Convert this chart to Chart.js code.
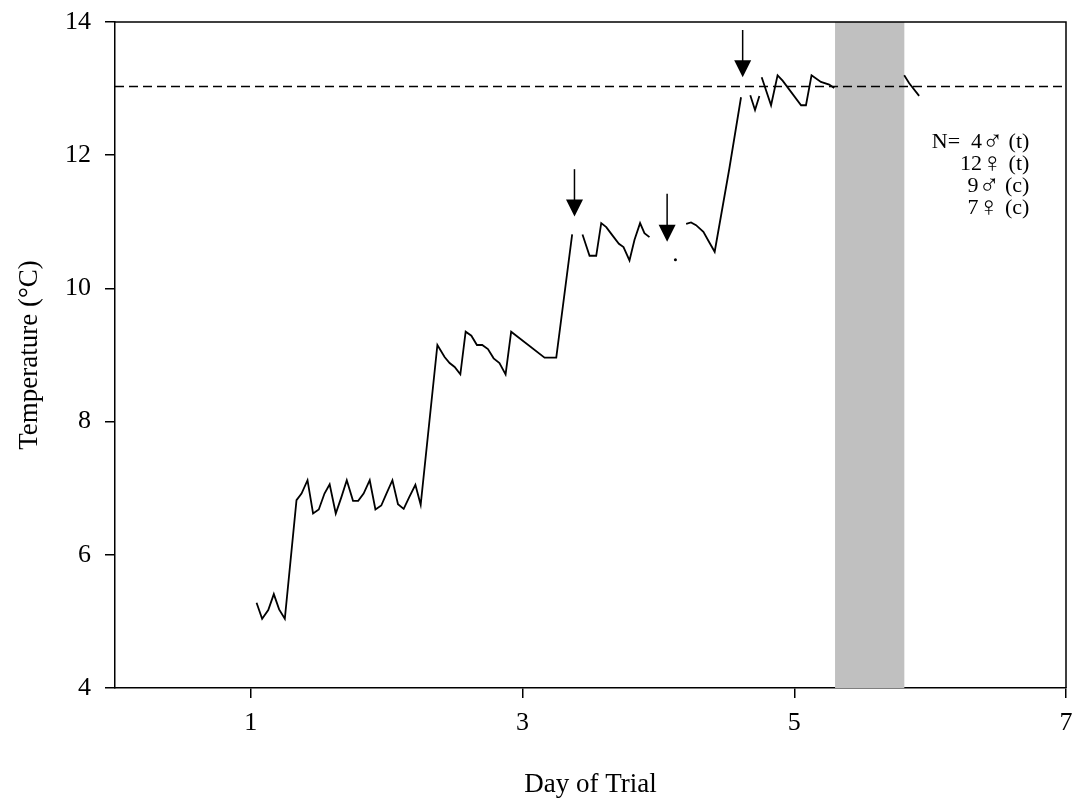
<!DOCTYPE html>
<html>
<head>
<meta charset="utf-8">
<script src="https://cdn.jsdelivr.net/npm/chart.js@4.4.1/dist/chart.umd.min.js"></script>
<style>
  html, body { margin: 0; padding: 0; background: #fff; }
</style>
</head>
<body>
<canvas id="chart" width="1072" height="800"></canvas>
<script>
// ── Data (null = gap in the logger record) ────────────────────────────────
const days = [
  1.042, 1.083, 1.128, 1.169, 1.208, 1.25, 1.336, 1.373, 1.417, 1.458, 1.5, 1.542, 1.58,
  1.625, 1.667, 1.706, 1.752, 1.79, 1.83, 1.875, 1.917, 1.96, 1.998, 2.042, 2.083, 2.125,
  2.164, 2.211, 2.25, 2.373, 2.426, 2.463, 2.5, 2.542, 2.581, 2.623, 2.664, 2.703, 2.745,
  2.787, 2.83, 2.875, 2.916, 3.162, 3.248, 3.365, 3.4,
  3.441, 3.493, 3.542, 3.579, 3.616, 3.66, 3.709, 3.743, 3.787, 3.824, 3.865, 3.897, 3.934, 4.0,
  4.125, 4.16,
  4.204, 4.24, 4.277, 4.331, 4.375, 4.414, 4.522, 4.608, 4.64,
  4.676, 4.711, 4.743, 4.75,
  4.76, 4.829, 4.877, 4.914, 5.05, 5.086, 5.127, 5.196, 5.257, 5.294, 5.5,
  5.809, 5.846, 5.919
];
const temps = [
  5.28, 5.04, 5.17, 5.41, 5.18, 5.04, 6.82, 6.92, 7.12, 6.62, 6.68, 6.92, 7.06,
  6.62, 6.87, 7.12, 6.81, 6.81, 6.92, 7.12, 6.68, 6.74, 6.92, 7.12, 6.76, 6.69,
  6.86, 7.05, 6.75, 9.15, 8.97, 8.88, 8.82, 8.71, 9.35, 9.29, 9.15, 9.15, 9.09,
  8.95, 8.88, 8.71, 9.35, 8.96, 8.96, 10.81, null,
  10.81, 10.49, 10.49, 10.98, 10.92, 10.80, 10.67, 10.62, 10.42, 10.73, 10.98, 10.83, 10.77, null,
  10.43, null,
  10.97, 10.99, 10.95, 10.85, 10.69, 10.55, 11.8, 12.87, null,
  12.90, 12.68, 12.89, null,
  13.17, 12.75, 13.20, 13.12, 12.75, 12.75, 13.20, 13.10, 13.06, 13.01, null,
  13.20, 13.08, 12.89
];

const targetTemp = 13.03;            // dashed reference line
const bandStart = 5.30;              // grey shaded period
const bandEnd = 5.81;

const xTickValues = [1, 3, 5, 7];

// transfer arrows: day, top of shaft, tip (°C)
const arrowDays = [3.382, 4.064, 4.62];
const arrowTops = [11.79, 11.42, 13.88];
const arrowTips = [11.08, 10.70, 13.17];

// sample sizes: [text before symbol, sex symbol, text after]
const sampleLines = [
  ['N=  4', '\u2642', ' (t)'],
  ['12', '\u2640', ' (t)'],
  ['9', '\u2642', ' (c)'],
  ['7', '\u2640', ' (c)'],
];

// ── Chart ──────────────────────────────────────────────────────────────────
const FONT = "'Liberation Serif', 'Times New Roman', serif";
const SYMBOL_FONT = "'DejaVu Sans', sans-serif";

const points = days.map((d, i) => ({ x: d, y: temps[i] }));

const isolated = (ctx) => {
  const i = ctx.dataIndex;
  const prev = temps[i - 1], next = temps[i + 1];
  return temps[i] !== null && (prev === null || prev === undefined) && (next === null || next === undefined);
};

const decor = {
  id: 'decor',
  beforeDatasetsDraw(chart) {
    const { ctx, chartArea: a, scales: { x } } = chart;
    const x0 = x.getPixelForValue(bandStart);
    const x1 = x.getPixelForValue(bandEnd);
    ctx.save();
    ctx.fillStyle = '#c0c0c0';
    ctx.fillRect(x0, a.top, x1 - x0, a.bottom - a.top);
    ctx.restore();
  },
  afterDraw(chart) {
    const { ctx, chartArea: a, scales: { x, y } } = chart;
    ctx.save();

    // top + right frame
    ctx.strokeStyle = '#000';
    ctx.lineWidth = 1.5;
    ctx.beginPath();
    ctx.moveTo(a.left, a.top);
    ctx.lineTo(a.right, a.top);
    ctx.lineTo(a.right, a.bottom);
    ctx.stroke();

    // arrows
    ctx.fillStyle = '#000';
    ctx.lineWidth = 1.5;
    arrowDays.forEach((d, i) => {
      const px = x.getPixelForValue(d);
      const top = y.getPixelForValue(arrowTops[i]);
      const tip = y.getPixelForValue(arrowTips[i]);
      ctx.beginPath();
      ctx.moveTo(px, top);
      ctx.lineTo(px, tip - 14);
      ctx.stroke();
      ctx.beginPath();
      ctx.moveTo(px - 8.5, tip - 17);
      ctx.lineTo(px + 8.5, tip - 17);
      ctx.lineTo(px, tip);
      ctx.closePath();
      ctx.fill();
    });

    // sample sizes, right aligned, symbols in a font that has them
    ctx.textAlign = 'left';
    ctx.textBaseline = 'alphabetic';
    const textFont = `22px ${FONT}`;
    const symFont = `200 28px ${SYMBOL_FONT}`;
    const tx = x.getPixelForValue(6.73);
    const ty = y.getPixelForValue(12.22) + 7;
    sampleLines.forEach(([pre, sym, post], i) => {
      ctx.font = textFont;
      const wPre = ctx.measureText(pre).width;
      const wPost = ctx.measureText(post).width;
      ctx.font = symFont;
      const wSym = ctx.measureText(sym).width;
      let cx = tx - (wPre + wSym + wPost);
      const by = ty + i * 22.2;
      ctx.font = textFont;
      ctx.fillText(pre, cx, by);
      cx += wPre;
      ctx.font = symFont;
      ctx.fillText(sym, cx, by + 2);
      cx += wSym;
      ctx.font = textFont;
      ctx.fillText(post, cx, by);
    });

    // axis titles
    ctx.font = `27px ${FONT}`;
    ctx.textAlign = 'center';
    ctx.textBaseline = 'middle';
    ctx.fillText('Day of Trial', (a.left + a.right) / 2, 785);
    ctx.translate(30, (a.top + a.bottom) / 2);
    ctx.rotate(-Math.PI / 2);
    ctx.fillText('Temperature (\u00B0C)', 0, 0);
    ctx.restore();
  }
};

new Chart(document.getElementById('chart'), {
  type: 'scatter',
  data: {
    datasets: [
      {
        data: points,
        showLine: true,
        spanGaps: false,
        borderColor: '#000',
        backgroundColor: '#000',
        borderWidth: 1.8,
        tension: 0,
        pointRadius: (ctx) => (isolated(ctx) ? 1.5 : 0),
        pointBorderWidth: 0,
      },
      {
        data: [{ x: 0, y: targetTemp }, { x: 7, y: targetTemp }],
        showLine: true,
        borderColor: '#000',
        borderWidth: 1.5,
        borderDash: [9, 5],
        pointRadius: 0,
      },
    ],
  },
  options: {
    responsive: false,
    animation: false,
    layout: { padding: { top: 22, right: 6, left: 0, bottom: 0 } },
    plugins: { legend: { display: false }, tooltip: { enabled: false } },
    scales: {
      x: {
        type: 'linear',
        min: 0,
        max: 7,
        afterBuildTicks: (s) => { s.ticks = xTickValues.map(v => ({ value: v })); },
        afterFit: (s) => { s.height = 112; s.paddingLeft = 0; s.paddingRight = 0; },
        ticks: { color: '#000', font: { family: FONT, size: 26 }, padding: 10, maxRotation: 0 },
        grid: { drawOnChartArea: false, color: '#000', tickLength: 10, lineWidth: 1.5 },
        border: { color: '#000', width: 1.5 },
      },
      y: {
        min: 4,
        max: 14,
        afterFit: (s) => { s.width = 115; s.paddingTop = 0; s.paddingBottom = 0; },
        ticks: { stepSize: 2, color: '#000', font: { family: FONT, size: 26 }, padding: 14 },
        grid: { drawOnChartArea: false, color: '#000', tickLength: 10, lineWidth: 1.5 },
        border: { color: '#000', width: 1.5 },
      },
    },
  },
  plugins: [decor],
});
</script>
</body>
</html>
